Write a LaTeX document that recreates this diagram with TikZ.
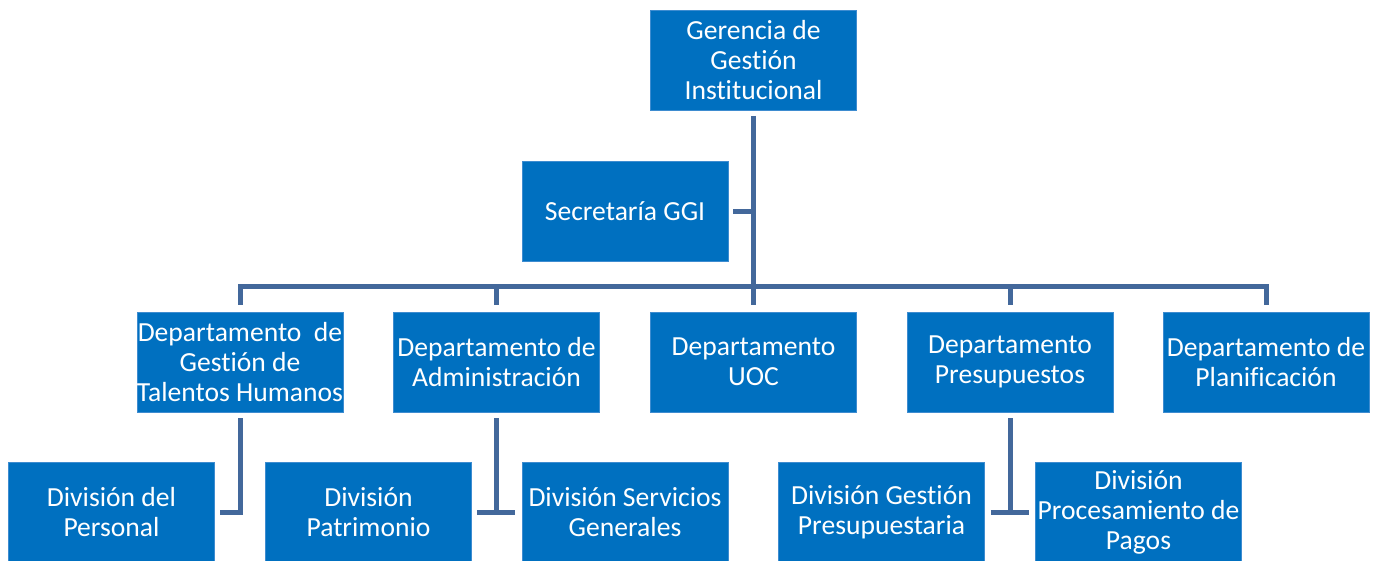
\documentclass[tikz,border=0pt]{standalone}
\usepackage{fontspec}
\setmainfont[Ligatures={NoCommon}]{Carlito}
\definecolor{boxblue}{HTML}{0070C0}
\definecolor{boxedge}{HTML}{3E8CD0}
\definecolor{linecol}{HTML}{43689B}
\begin{document}
\begin{tikzpicture}[x=1pt,y=-1pt,
  orgbox/.style={fill=boxblue,draw=boxedge,line width=0.6pt,minimum width=206pt,minimum height=100pt,
    inner sep=0pt,align=center,text=white,font=\fontsize{27.6}{30}\selectfont},
  conn/.style={draw=linecol,line width=5pt,line join=miter}]
\useasboundingbox (0,0) rectangle (1387,560);
\begin{scope}
\clip (0,0) rectangle (1387,560);
\node[orgbox] (top) at (753.5,60.5) {Gerencia de\\Gestión\\Institucional};
\node[orgbox] (sec) at (625,211) {Secretaría GGI};
\node[orgbox] (thh) at (240,362) {Departamento\ \ de\\Gestión de\\Talentos Humanos};
\node[orgbox] (adm) at (496.5,362) {Departamento de\\Administración};
\node[orgbox] (uoc) at (753.5,362) {Departamento\\UOC};
\node[orgbox] (pre) at (1010,362) {Departamento\\Presupuestos};
\node[orgbox] (pla) at (1266,362) {Departamento de\\Planificación};
\node[orgbox] (dp) at (111.5,512) {División del\\Personal};
\node[orgbox] (pat) at (368.5,512) {División\\Patrimonio};
\node[orgbox] (ser) at (625,512) {División Servicios\\Generales};
\node[orgbox] (gp) at (881.5,512) {División Gestión\\Presupuestaria};
\node[orgbox] (proc) at (1138.5,512) {División\\Procesamiento de\\Pagos};
\end{scope}
% main trunk
\draw[conn] ([yshift=-5pt]top.south) -- ([yshift=7pt]uoc.north);
\draw[conn] ([xshift=5pt]sec.east) -- (sec.east -| top.south);
% bar
\draw[conn] ([yshift=7pt]thh.north) -- ([yshift=25pt]thh.north) -- ([yshift=25pt]pla.north) -- ([yshift=7pt]pla.north);
\draw[conn] ([yshift=7pt]adm.north) -- ([yshift=25pt]adm.north);
\draw[conn] ([yshift=7pt]pre.north) -- ([yshift=25pt]pre.north);
% THH to Division del Personal
\draw[conn] ([yshift=-6pt]thh.south) |- ([xshift=5pt]dp.east);
% Admin divisions
\draw[conn] ([yshift=-6pt]adm.south) -- (adm.south |- ser.west);
\draw[conn] ([xshift=5pt]pat.east) -- ([xshift=-7pt]ser.west);
% Presupuestos divisions
\draw[conn] ([yshift=-6pt]pre.south) -- (pre.south |- proc.west);
\draw[conn] ([xshift=6pt]gp.east) -- ([xshift=-6pt]proc.west);
\end{tikzpicture}
\end{document}
